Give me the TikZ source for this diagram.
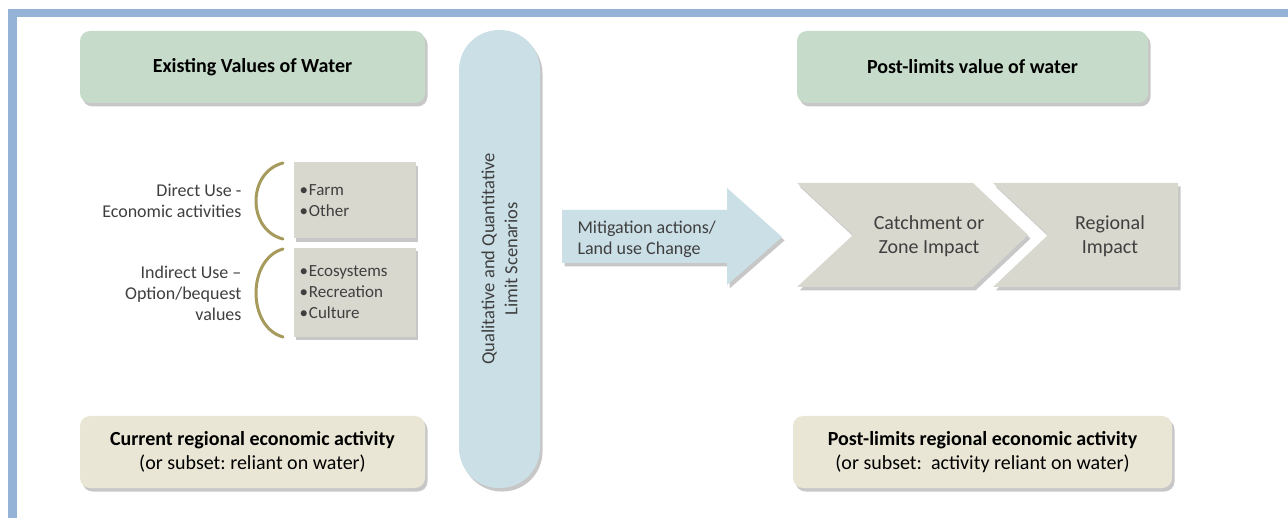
\documentclass[tikz,border=0pt]{standalone}
\usepackage{fontspec}
\setmainfont{Carlito}
\usetikzlibrary{shadows}

\definecolor{framebl}{HTML}{95B3D7}
\definecolor{hdrgreen}{HTML}{C6DBC9}
\definecolor{actbeige}{HTML}{E9E6D5}
\definecolor{usegray}{HTML}{D9D8CF}
\definecolor{pillblue}{HTML}{CBDFE6}
\definecolor{bracegold}{HTML}{A69A5C}
\definecolor{txtgray}{HTML}{3F3F3F}

\newcommand\bigfont{\fontsize{20}{24}\selectfont}
\newcommand\lblfont{\fontsize{18}{21}\selectfont}
\newcommand\bulfont{\fontsize{17}{21}\selectfont}
\frenchspacing

\begin{document}
\begin{tikzpicture}[x=1pt,y=-1pt,
    shade/.style={drop shadow={shadow xshift=2.5pt,shadow yshift=-3.5pt,fill=black,opacity=.22}},
    roundbox/.style={rounded corners=10pt,shade,align=center,inner sep=0pt,
        minimum height=72pt,font=\bigfont},
    usebox/.style={fill=usegray,shade,inner xsep=6pt,inner ysep=0pt,align=left,
        text width=110pt,font=\bulfont,text=txtgray},
    brace/.style={draw=bracegold,line width=3pt,line cap=round},
    lbl/.style={anchor=east,align=right,font=\lblfont,text=txtgray}]
    \useasboundingbox (0,0) rectangle (1288,518);
    % frame
    \fill[framebl] (8,9) rectangle (1288,17);
    \fill[framebl] (8,9) rectangle (17,518);

    % left column
    \node[roundbox,fill=hdrgreen,minimum width=345pt] (exist) at (252.5,67) {\bfseries Existing Values of Water};
    \node[roundbox,fill=actbeige,minimum width=345pt] (current) at (252.5,452)
        {\bfseries Current regional economic activity\\(or subset: reliant on water)};

    \node[lbl] (direct) at (245,201) {Direct Use -\\Economic activities};
    \node[lbl] (indirect) at (245,293) {Indirect Use --\\Option/bequest\\values};
    \draw[brace] (283,163) .. controls (247,172) and (247,230) .. (283,239);
    \draw[brace] (283,249) .. controls (247,259) and (247,327) .. (283,337);
    \node[usebox,minimum height=76pt] (farm) at (354.5,200.5) {•\kern1pt Farm\\•\kern1pt Other};
    \node[usebox,minimum height=89pt] (eco) at (354.5,292.5)
        {•\kern1pt Ecosystems\\•\kern1pt Recreation\\•\kern1pt Culture};

    % scenarios
    \node[fill=pillblue,rounded corners=40pt,shade,minimum width=81pt,minimum height=458pt] (pill) at (499.5,259) {};
    \node[rotate=90,align=center,font=\fontsize{18.5}{23}\selectfont,text=txtgray] (scen) at (pill.center)
        {Qualitative and Quantitative\\Limit Scenarios};

    % mitigation arrow
    \fill[pillblue,shade] (562,210) -- (727,210) -- (727,188) -- (782,237) -- (727,285)
        -- (727,263) -- (562,263) -- cycle;
    \node[anchor=west,align=left,font=\lblfont,text=txtgray] (mitig) at (574,239) {Mitigation actions/\\Land use Change};

    % impacts
    \fill[usegray,shade] (797,183) -- (973,183) -- (1028,235) -- (973,287) -- (797,287) -- (853,235) -- cycle;
    \fill[usegray,shade] (993,183) -- (1178,183) -- (1178,287) -- (993,287) -- (1048,235) -- cycle;
    \node[align=center,font=\bigfont,text=txtgray] (catch) at (929,236) {Catchment or\\Zone Impact};
    \node[align=center,font=\bigfont,text=txtgray] (region) at (1110,236) {Regional\\Impact};

    % right column
    \node[roundbox,fill=hdrgreen,minimum width=351pt] (post) at (972.5,67) {\bfseries Post-limits value of water};
    \node[roundbox,fill=actbeige,minimum width=379pt] (postact) at (982.5,452)
        {\bfseries Post-limits regional economic activity\\(or subset:\ \ activity reliant on water)};
\end{tikzpicture}
\end{document}
